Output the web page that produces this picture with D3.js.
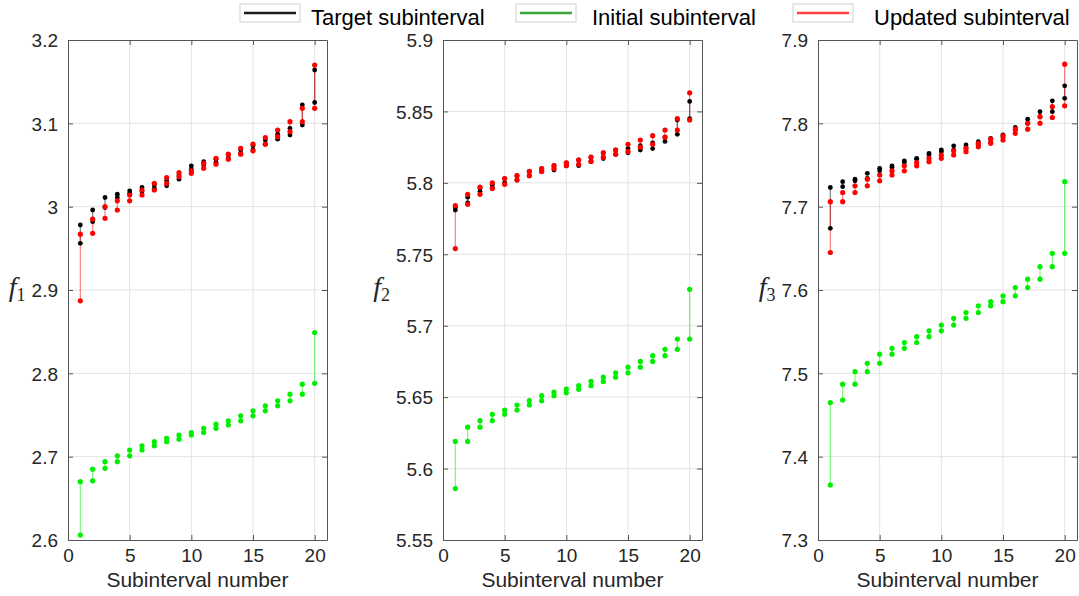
<!DOCTYPE html>
<html>
<head>
<meta charset="utf-8">
<script src="https://cdn.jsdelivr.net/npm/d3@7"></script>
<style>
  html, body { margin: 0; padding: 0; background: #fff; }
  svg { display: block; }
</style>
</head>
<body>
<svg id="chart" width="1079" height="596"></svg>
<script>
// ---------------- DATA ----------------
const subintervals = d3.range(1, 21);
const xTicks = [0, 5, 10, 15, 20];

// f1
const f1TargetLo = [2.956, 2.982, 2.999, 3.011, 3.016, 3.018, 3.022, 3.025, 3.033, 3.045, 3.050, 3.053, 3.058, 3.064, 3.068, 3.075, 3.081, 3.086, 3.098, 3.125];
const f1TargetHi = [2.978, 2.996, 3.011, 3.015, 3.019, 3.023, 3.026, 3.031, 3.038, 3.049, 3.054, 3.057, 3.062, 3.068, 3.073, 3.080, 3.087, 3.094, 3.122, 3.164];
const f1InitLo   = [2.606, 2.671, 2.686, 2.694, 2.701, 2.708, 2.713, 2.718, 2.721, 2.726, 2.729, 2.734, 2.738, 2.743, 2.749, 2.755, 2.761, 2.767, 2.775, 2.788];
const f1InitHi   = [2.670, 2.685, 2.694, 2.701, 2.708, 2.713, 2.718, 2.722, 2.726, 2.729, 2.734, 2.739, 2.743, 2.749, 2.755, 2.761, 2.767, 2.775, 2.787, 2.849];
const f1UpdLo    = [2.887, 2.968, 2.986, 2.996, 3.007, 3.014, 3.020, 3.028, 3.036, 3.040, 3.046, 3.051, 3.057, 3.063, 3.067, 3.075, 3.084, 3.090, 3.102, 3.118];
const f1UpdHi    = [2.967, 2.985, 3.000, 3.007, 3.014, 3.020, 3.028, 3.035, 3.041, 3.043, 3.052, 3.058, 3.063, 3.070, 3.075, 3.083, 3.092, 3.102, 3.118, 3.170];
const f1Ticks = [2.6, 2.7, 2.8, 2.9, 3.0, 3.1, 3.2];
const f1TickLabels = ["2.6", "2.7", "2.8", "2.9", "3", "3.1", "3.2"];

// f2
const f2TargetLo = [5.781, 5.786, 5.794, 5.797, 5.800, 5.802, 5.805, 5.808, 5.809, 5.812, 5.812, 5.815, 5.817, 5.820, 5.821, 5.823, 5.824, 5.829, 5.834, 5.845];
const f2TargetHi = [5.783, 5.790, 5.796, 5.799, 5.803, 5.805, 5.808, 5.810, 5.812, 5.814, 5.816, 5.818, 5.821, 5.823, 5.824, 5.826, 5.828, 5.832, 5.844, 5.857];
const f2InitLo   = [5.586, 5.619, 5.629, 5.6335, 5.638, 5.641, 5.6445, 5.6475, 5.651, 5.653, 5.6555, 5.658, 5.661, 5.664, 5.667, 5.671, 5.675, 5.679, 5.6835, 5.6907];
const f2InitHi   = [5.619, 5.629, 5.6335, 5.638, 5.641, 5.6445, 5.6475, 5.651, 5.6535, 5.6557, 5.658, 5.661, 5.664, 5.667, 5.671, 5.675, 5.679, 5.6835, 5.6907, 5.7255];
const f2UpdLo    = [5.754, 5.785, 5.792, 5.796, 5.799, 5.802, 5.805, 5.808, 5.810, 5.812, 5.813, 5.815, 5.818, 5.820, 5.822, 5.825, 5.827, 5.832, 5.837, 5.844];
const f2UpdHi    = [5.784, 5.792, 5.797, 5.800, 5.803, 5.805, 5.808, 5.810, 5.812, 5.814, 5.816, 5.818, 5.821, 5.823, 5.827, 5.830, 5.833, 5.837, 5.845, 5.863];
const f2Ticks = [5.55, 5.6, 5.65, 5.7, 5.75, 5.8, 5.85, 5.9];
const f2TickLabels = ["5.55", "5.6", "5.65", "5.7", "5.75", "5.8", "5.85", "5.9"];

// f3
const f3TargetLo = [7.674, 7.724, 7.731, 7.734, 7.743, 7.747, 7.753, 7.757, 7.762, 7.766, 7.768, 7.771, 7.775, 7.777, 7.783, 7.792, 7.800, 7.808, 7.814, 7.830];
const f3TargetHi = [7.723, 7.730, 7.733, 7.740, 7.746, 7.749, 7.755, 7.758, 7.764, 7.768, 7.773, 7.774, 7.778, 7.782, 7.786, 7.795, 7.805, 7.814, 7.827, 7.845];
const f3InitLo   = [7.366, 7.468, 7.487, 7.502, 7.512, 7.523, 7.530, 7.537, 7.544, 7.551, 7.558, 7.566, 7.573, 7.581, 7.586, 7.593, 7.603, 7.613, 7.628, 7.644];
const f3InitHi   = [7.465, 7.487, 7.502, 7.512, 7.523, 7.530, 7.537, 7.544, 7.551, 7.558, 7.566, 7.573, 7.581, 7.586, 7.593, 7.603, 7.613, 7.628, 7.644, 7.730];
const f3UpdLo    = [7.645, 7.706, 7.717, 7.725, 7.731, 7.738, 7.743, 7.749, 7.754, 7.758, 7.762, 7.766, 7.772, 7.776, 7.780, 7.788, 7.793, 7.800, 7.807, 7.821];
const f3UpdHi    = [7.706, 7.717, 7.725, 7.733, 7.738, 7.743, 7.749, 7.753, 7.758, 7.762, 7.767, 7.770, 7.776, 7.781, 7.785, 7.793, 7.800, 7.808, 7.820, 7.871];
const f3Ticks = [7.3, 7.4, 7.5, 7.6, 7.7, 7.8, 7.9];
const f3TickLabels = ["7.3", "7.4", "7.5", "7.6", "7.7", "7.8", "7.9"];

const seriesNames = ["Target subinterval", "Initial subinterval", "Updated subinterval"];
const xLabel = "Subinterval number";

// ---------------- STYLE ----------------
const svg = d3.select("#chart");
const axisColor = "#555";
const textColor = "#262626";
const gridColor = "#e3e3e3";
const colTarget = "#000000", colInit = "#00ee00", colUpd = "#ff0000";

const panels = [
  { left: 68,  name: "1", domain: [2.6, 3.2],  ticks: f1Ticks, labels: f1TickLabels,
    target: [f1TargetLo, f1TargetHi], init: [f1InitLo, f1InitHi], upd: [f1UpdLo, f1UpdHi] },
  { left: 443, name: "2", domain: [5.55, 5.9], ticks: f2Ticks, labels: f2TickLabels,
    target: [f2TargetLo, f2TargetHi], init: [f2InitLo, f2InitHi], upd: [f2UpdLo, f2UpdHi] },
  { left: 818, name: "3", domain: [7.3, 7.9],  ticks: f3Ticks, labels: f3TickLabels,
    target: [f3TargetLo, f3TargetHi], init: [f3InitLo, f3InitHi], upd: [f3UpdLo, f3UpdHi] }
];
const plotTop = 40, plotBottom = 540, pw = 259;

panels.forEach(p => {
  const x = d3.scaleLinear().domain([0, 21]).range([p.left, p.left + pw]);
  const y = d3.scaleLinear().domain(p.domain).range([plotBottom, plotTop]);
  const g = svg.append("g");

  // grid
  g.append("g").selectAll("line").data(xTicks.filter(t => t > 0)).join("line")
    .attr("x1", d => x(d)).attr("x2", d => x(d)).attr("y1", plotTop).attr("y2", plotBottom)
    .attr("stroke", gridColor).attr("stroke-width", 1);
  g.append("g").selectAll("line").data(p.ticks.slice(1, -1)).join("line")
    .attr("x1", p.left).attr("x2", p.left + pw).attr("y1", d => y(d)).attr("y2", d => y(d))
    .attr("stroke", gridColor).attr("stroke-width", 1);

  // axes (inner ticks)
  const xAxis = d3.axisBottom(x).tickValues(xTicks).tickSizeInner(-5).tickSizeOuter(0).tickPadding(9);
  const gx = g.append("g").attr("transform", `translate(0,${plotBottom})`).call(xAxis);
  const yAxis = d3.axisLeft(y).tickValues(p.ticks).tickFormat((d, i) => p.labels[i])
    .tickSizeInner(-5).tickSizeOuter(0).tickPadding(10);
  const gy = g.append("g").attr("transform", `translate(${p.left},0)`).call(yAxis);
  const gxt = g.append("g").attr("transform", `translate(0,${plotTop})`)
    .call(d3.axisTop(x).tickValues(xTicks).tickSizeInner(-5).tickSizeOuter(0).tickFormat(""));
  const gyr = g.append("g").attr("transform", `translate(${p.left + pw},0)`)
    .call(d3.axisRight(y).tickValues(p.ticks).tickSizeInner(-5).tickSizeOuter(0).tickFormat(""));
  [gx, gy, gxt, gyr].forEach(a => {
    a.selectAll("path").attr("stroke", axisColor).attr("stroke-width", 1);
    a.selectAll("line").attr("stroke", axisColor).attr("stroke-width", 1);
    a.selectAll("text").attr("fill", textColor)
      .style("font-family", "'Liberation Sans', Arial, sans-serif").style("font-size", "19px");
  });
  gy.selectAll("text").attr("dy", "0.36em");

  // x label
  g.append("text").attr("x", p.left + pw / 2).attr("y", 587)
    .attr("text-anchor", "middle").attr("fill", textColor)
    .style("font-family", "'Liberation Sans', Arial, sans-serif").style("font-size", "21px")
    .text(xLabel);

  // y label f_n
  const bb = gy.node().getBBox();
  const yl = g.append("text").attr("x", p.left + bb.x - 6).attr("y", (plotTop + plotBottom) / 2 + 6)
    .attr("text-anchor", "end").attr("fill", textColor)
    .style("font-family", "'Liberation Serif', 'Times New Roman', serif").style("font-size", "28px");
  yl.append("tspan").style("font-style", "italic").text("f");
  yl.append("tspan").attr("dy", 5).style("font-size", "18px").text(p.name);

  // intervals
  const series = [
    { data: p.init, color: colInit, r: 2.6 },
    { data: p.target, color: colTarget, r: 2.4 },
    { data: p.upd, color: colUpd, r: 2.6 }
  ];
  series.forEach(s => {
    g.append("g").selectAll("line").data(subintervals).join("line")
      .attr("x1", d => x(d)).attr("x2", d => x(d))
      .attr("y1", (d, i) => y(s.data[0][i])).attr("y2", (d, i) => y(s.data[1][i]))
      .attr("stroke", s.color).attr("stroke-opacity", 0.5).attr("stroke-width", 1.2);
  });
  series.forEach(s => {
    const gd = g.append("g");
    [0, 1].forEach(k => {
      gd.selectAll(`circle.c${k}`).data(subintervals).join("circle").attr("class", `c${k}`)
        .attr("cx", d => x(d)).attr("cy", (d, i) => y(s.data[k][i]))
        .attr("r", s.r).attr("fill", s.color);
    });
  });
});

// ---------------- LEGEND ----------------
const legendItems = [
  { name: seriesNames[0], color: "#1a1a1a", bx: 240, tx: 311 },
  { name: seriesNames[1], color: "#3aa63a", bx: 516, tx: 592 },
  { name: seriesNames[2], color: "#ff4040", bx: 793, tx: 874 }
];
const lg = svg.append("g");
legendItems.forEach(it => {
  lg.append("rect").attr("x", it.bx).attr("y", 4).attr("width", 60).attr("height", 18)
    .attr("fill", "#fff").attr("stroke", "#d0d0d0").attr("stroke-width", 1);
  lg.append("line").attr("x1", it.bx + 4).attr("x2", it.bx + 56).attr("y1", 13).attr("y2", 13)
    .attr("stroke", it.color).attr("stroke-width", 2.5);
  lg.append("text").attr("x", it.tx).attr("y", 25).attr("fill", "#000")
    .style("font-family", "'Liberation Sans', Arial, sans-serif").style("font-size", "22px")
    .text(it.name);
});
</script>
</body>
</html>
